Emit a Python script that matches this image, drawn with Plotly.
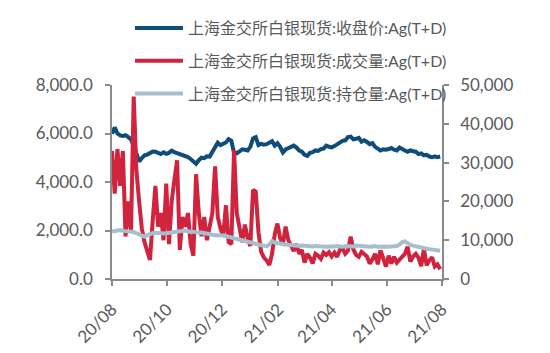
import pandas as pd
import plotly.graph_objects as go

# dates: every 3 days from 2020-08-01
dates = [d.strftime("%Y-%m-%d") for d in pd.date_range("2020-08-01", periods=122, freq="3D")]

close_price = [
    5990, 6250, 6000, 5920, 5900, 5930, 5850, 5760, 5500, 5100,
    4850, 4990, 5100, 5130, 5180, 5260, 5250, 5180, 5150, 5220,
    5160, 5200, 5290, 5230, 5190, 5150, 5110, 5080, 5030, 4950,
    4850, 4750, 4900, 5000, 4980, 5060, 5050, 5250, 5450, 5620,
    5520, 5580, 5630, 5770, 5700, 5200, 5180, 5260, 5350, 5330,
    5300, 5450, 5800, 5850, 5520, 5570, 5540, 5560, 5620, 5680,
    5500, 5600, 5450, 5220, 5340, 5380, 5420, 5500, 5420, 5300,
    5250, 5120, 5080, 5200, 5230, 5300, 5280, 5360, 5380, 5500,
    5450, 5430, 5480, 5560, 5620, 5700, 5720, 5850, 5870, 5760,
    5780, 5820, 5660, 5720, 5650, 5560, 5600, 5450, 5380, 5300,
    5350, 5330, 5360, 5400, 5330, 5300, 5420, 5380, 5300, 5250,
    5300, 5270, 5250, 5150, 5180, 5100, 5120, 5050, 5020, 5060,
    5020, 5050,
]

volume = [
    33000, 22000, 33500, 24000, 33000, 11000, 20000, 12000, 47000, 28000,
    20000, 13000, 9500, 7000, 4900, 15000, 24000, 13500, 17000, 10000,
    24600, 9000, 20000, 25500, 30600, 7500, 16000, 13500, 17000, 9000,
    6000, 27000, 17000, 11000, 16000, 10000, 13000, 17000, 29000, 16000,
    13000, 11000, 19000, 9500, 9000, 33200, 17000, 13000, 9500, 14000,
    10500, 8500, 23000, 22500, 12000, 7000, 5500, 4800, 3600, 6500,
    11500, 14300, 10500, 9000, 13500, 10000, 8500, 7200, 9000, 6500,
    7500, 4200, 6500, 5500, 4000, 6500, 6000, 5200, 6800, 6200,
    6900, 5800, 6800, 5700, 7500, 7900, 6500, 7300, 10900, 7600,
    6200, 5700, 7000, 6300, 5800, 4000, 5000, 6500, 3800, 7400,
    5500, 3200, 6000, 4000, 5700, 4200, 5000, 5800, 6500, 8300,
    4500, 5800, 6500, 5500, 3300, 7800, 3500, 4800, 5600, 3200,
    3800, 2500,
]

open_interest = [
    12200, 12300, 12500, 12600, 12400, 12300, 12200, 12300, 12100, 11800,
    11500, 11100, 10900, 11300, 11600, 11800, 11900, 11800, 11700, 11700,
    11800, 11900, 12000, 12200, 12400, 12500, 12600, 12500, 12300, 12100,
    12200, 12000, 11900, 12000, 11800, 11700, 11600, 11400, 11300, 11400,
    11300, 11200, 11100, 10900, 10700, 10500, 10300, 10100, 10000, 9900,
    9700, 9500, 9300, 9100, 8900, 8700, 8600, 8400, 8900, 9800,
    9400, 9200, 9100, 9000, 8900, 8800, 8700, 8800, 8600, 8500,
    8600, 8500, 8400, 8500, 8400, 8500, 8400, 8300, 8400, 8300,
    8400, 8300, 8400, 8500, 8400, 8300, 8500, 8400, 8500, 8400,
    8600, 8500, 8400, 8500, 8400, 8300, 8400, 8500, 8300, 8400,
    8300, 8400, 8300, 8400, 8300, 8500, 8900, 9500, 9700, 9200,
    8800, 8600, 8400, 8200, 8100, 7900, 7800, 7700, 7600, 7500,
    7400, 7300,
]

tick_dates = ["2020-08-01", "2020-10-01", "2020-12-01", "2021-02-01",
              "2021-04-01", "2021-06-01", "2021-08-01"]
tick_labels = ["20/08", "20/10", "20/12", "21/02", "21/04", "21/06", "21/08"]

names = ["上海金交所白银现货:收盘价:Ag(T+D)",
         "上海金交所白银现货:成交量:Ag(T+D)",
         "上海金交所白银现货:持仓量:Ag(T+D)"]
colors = ["#0E4C7B", "#D0233D", "#A5BFCD"]

fig = go.Figure()
fig.add_trace(go.Scatter(x=dates, y=close_price, name=names[0], mode="lines",
                         line=dict(color=colors[0], width=4), yaxis="y",
                         legendgroup="a"))
fig.add_trace(go.Scatter(x=dates, y=volume, name=names[1], mode="lines",
                         line=dict(color=colors[1], width=4), yaxis="y2",
                         legendgroup="b"))
fig.add_trace(go.Scatter(x=dates, y=open_interest, name=names[2], mode="lines",
                         line=dict(color=colors[2], width=4), yaxis="y2",
                         legendgroup="c"))

axis_col = "#8A8A8A"
tick_font = dict(family="Lato, Noto Sans CJK SC", size=17, color="#595959")

fig.update_layout(
    template="none",
    width=550, height=353,
    margin=dict(l=112, r=108, t=85, b=74, autoexpand=False),
    paper_bgcolor="white", plot_bgcolor="white",
    showlegend=True,
    legend=dict(x=130 / 550, y=1 - 11 / 353, xref="container", yref="container",
                xanchor="left", yanchor="top", bgcolor="rgba(0,0,0,0)",
                font=dict(family="Lato, Noto Sans CJK SC", size=16, color="#595959"),
                traceorder="grouped", tracegroupgap=9, itemwidth=48),
    xaxis=dict(type="date", range=["2020-08-01", "2021-08-01"], automargin=False,
               tickvals=tick_dates, ticktext=tick_labels, tickangle=-45,
               ticklabelstandoff=7,
               showgrid=False, zeroline=False, showline=True, linecolor=axis_col,
               linewidth=1.5, ticks="outside", ticklen=5, tickcolor=axis_col,
               tickwidth=1.5, tickfont=tick_font),
    yaxis=dict(range=[0, 8000], tickvals=[0, 2000, 4000, 6000, 8000], automargin=False,
               tickformat=",.1f", showgrid=False, zeroline=False, showline=True,
               ticklabelstandoff=9,
               linecolor=axis_col, linewidth=1.5, ticks="outside", ticklen=5,
               tickcolor=axis_col, tickwidth=1.5, tickfont=tick_font),
    yaxis2=dict(range=[0, 50000], tickvals=[0, 10000, 20000, 30000, 40000, 50000],
                tickformat=",.0f", overlaying="y", side="right", showgrid=False,
                automargin=False, ticklabelstandoff=8,
                zeroline=False, showline=True, linecolor=axis_col, linewidth=1.5,
                ticks="outside", ticklen=5, tickcolor=axis_col, tickwidth=1.5,
                tickfont=tick_font),
)

fig.write_html("out.html")
